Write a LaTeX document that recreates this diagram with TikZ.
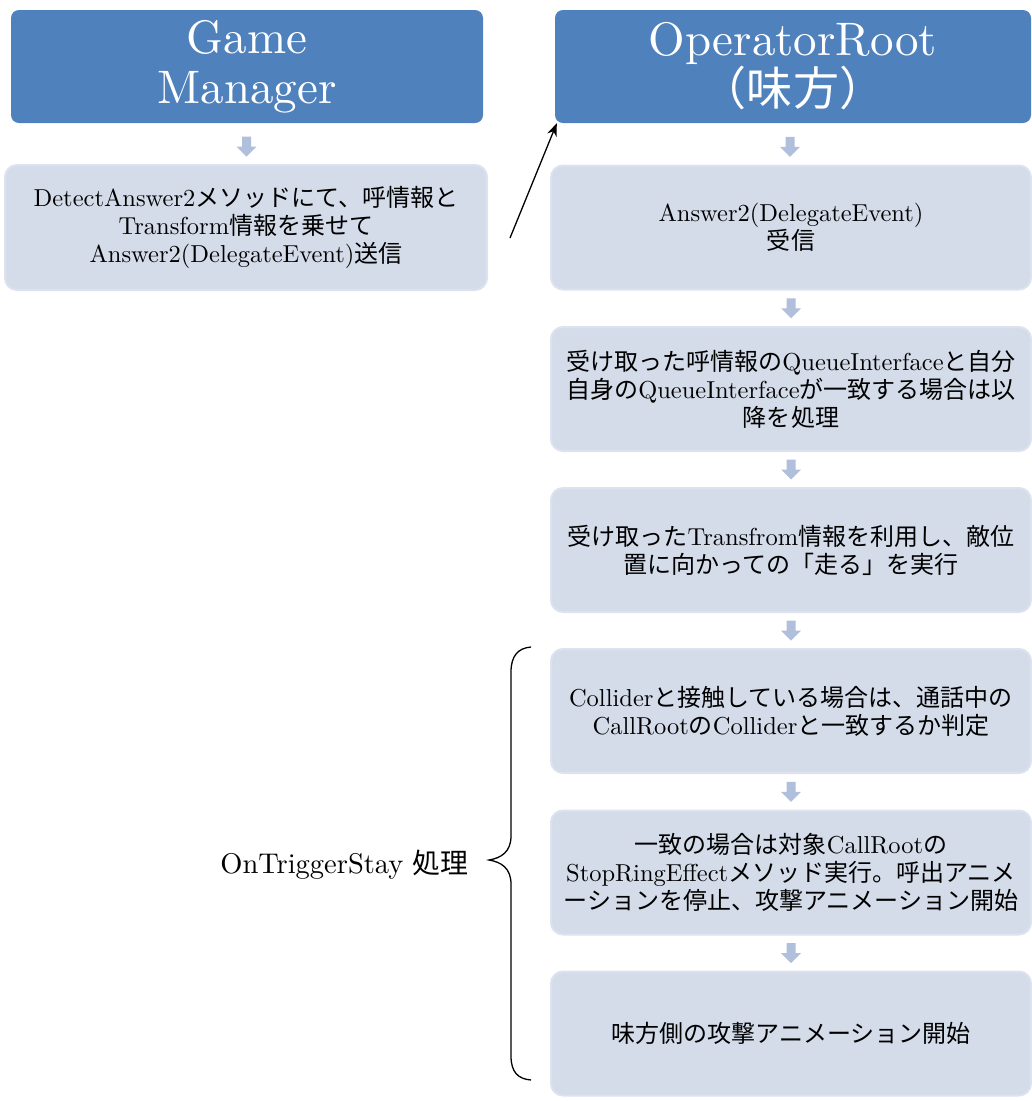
\documentclass[tikz,border=0pt]{standalone}
\usepackage{fontspec}
\setmainfont{lmroman10-regular.otf}[BoldFont=lmroman10-bold.otf]
\newfontfamily\jp[Scale=0.98]{Noto Sans CJK JP}
\newcommand\jpn[1]{{\jp #1}}
\usetikzlibrary{calc,arrows.meta}
\definecolor{headblue}{HTML}{4F81BD}
\definecolor{stepfill}{HTML}{D4DCEA}
\definecolor{stepline}{HTML}{DCE2EE}
\definecolor{arrowcol}{HTML}{B0BFDC}
\begin{document}
\begin{tikzpicture}[x=1pt,y=-1pt,
  header/.style={rounded corners=8pt, fill=headblue, text=white, align=center,
    inner sep=0pt, font=\fontsize{47}{50}\selectfont},
  stepbox/.style={rounded corners=12pt, fill=stepfill, draw=stepline, line width=2pt,
    align=center, inner sep=0pt, minimum width=480pt, minimum height=124pt,
    font=\fontsize{24.5}{28}\selectfont},
  flowarrow/.pic={\fill[arrowcol] (-4.5,-10) -- (4.5,-10) -- (4.5,0) -- (10,0)
    -- (0,10) -- (-10,0) -- (-4.5,0) -- cycle;},
  link/.style={-{Stealth[length=13pt,width=10pt]}, line width=1.3pt, black}
]
\useasboundingbox (0,0) rectangle (1032,1101);

% headers
\node[header, minimum width=472pt, minimum height=113pt] (gm) at (247,66.5)
  {Game\\Manager};
\node[header, minimum width=476pt, minimum height=113pt] (op) at (793,66.5)
  {OperatorRoot\\\jpn{（味方）}};

% left column
\node[stepbox, minimum width=482pt, minimum height=125pt] (detect) at (246,227.5)
  {DetectAnswer2\jpn{メソッドにて、呼情報と}\\Transform\jpn{情報を乗せて}\\Answer2(DelegateEvent)\jpn{送信}};

% right column
\node[stepbox] (recv) at (791,227.5)
  {Answer2(DelegateEvent)\\\jpn{受信}};
\node[stepbox] (queue) at (791,389)
  {\jpn{受け取った呼情報の}QueueInterface\jpn{と自分}\\\jpn{自身の}QueueInterface\jpn{が一致する場合は以}\\\jpn{降を処理}};
\node[stepbox] (run) at (791,550)
  {\jpn{受け取った}Transfrom\jpn{情報を利用し、敵位}\\\jpn{置に向かっての「走る」を実行}};
\node[stepbox] (collide) at (791,711)
  {Collider\jpn{と接触している場合は、通話中の}\\CallRoot\jpn{の}Collider\jpn{と一致するか判定}};
\node[stepbox] (stop) at (791,872.5)
  {\jpn{一致の場合は対象}CallRoot\jpn{の}\\StopRingEffect\jpn{メソッド実行。呼出アニメ}\\\jpn{ーションを停止、攻撃アニメーション開始}};
\node[stepbox] (attack) at (791,1033.5)
  {\jpn{味方側の攻撃アニメーション開始}};

% block arrows between steps
\pic at ($(gm.south)!0.5!(detect.north)+(0,3)$) {flowarrow};
\pic at ($(op.south)!0.5!(recv.north)+(-2,3)$) {flowarrow};
\pic at ($(recv.south)!0.5!(queue.north)$) {flowarrow};
\pic at ($(queue.south)!0.5!(run.north)$) {flowarrow};
\pic at ($(run.south)!0.5!(collide.north)$) {flowarrow};
\pic at ($(collide.south)!0.5!(stop.north)$) {flowarrow};
\pic at ($(stop.south)!0.5!(attack.north)$) {flowarrow};

% event sent to the operator
\coordinate (src) at (510,238);
\draw[link] (src) -- ([xshift=2pt]op.south west);

% brace grouping the trigger steps
\draw[line width=1.3pt, black]
  (531,647) .. controls (518,648) and (511,656) .. (511,672)
  -- (511,836) .. controls (511,852) and (501,858) .. (489,860)
  .. controls (501,862) and (511,868) .. (511,884)
  -- (511,1056) .. controls (511,1072) and (518,1079) .. (531,1080);
\node[anchor=east, inner sep=0pt, font=\fontsize{28.5}{32}\selectfont] (stay) at (469,865)
  {OnTriggerStay \jpn{処理}};
\end{tikzpicture}
\end{document}
